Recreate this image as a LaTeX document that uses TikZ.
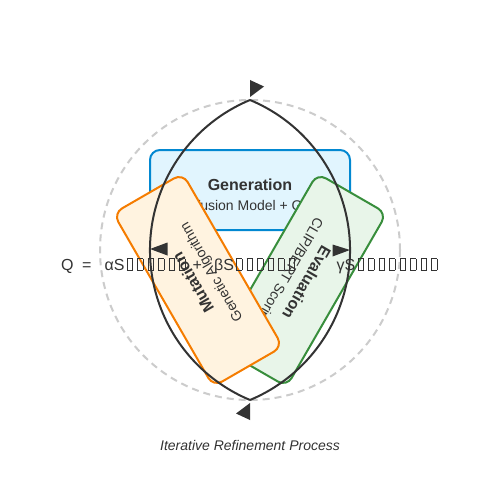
\documentclass[tikz,border=0pt]{standalone}
\usepackage{fontspec}
\setmainfont{Liberation Sans}
\usepackage{tikz}
\usetikzlibrary{calc,positioning}
\definecolor{genfill}{HTML}{E1F5FE}
\definecolor{gendraw}{HTML}{0288D1}
\definecolor{mutfill}{HTML}{FFF3E0}
\definecolor{mutdraw}{HTML}{F57C00}
\definecolor{evalfill}{HTML}{E8F5E9}
\definecolor{evaldraw}{HTML}{388E3C}
\definecolor{ink}{HTML}{333333}
\definecolor{ringgray}{HTML}{CCCCCC}
% missing-glyph boxes as printed in the formula
\newcommand{\tofu}{\makebox[10.5pt]{\fboxsep=0pt\fboxrule=0.6pt\fbox{\rule{0pt}{11pt}\rule{5pt}{0pt}}}}
\newcommand{\tofus}[1]{\foreach \k in {1,...,#1}{\tofu}}
\tikzset{%
	stagebox/.style   = {rectangle, rounded corners=10pt, line width=2pt, minimum width=200pt, minimum height=80pt, inner sep=0pt},
	stagetitle/.style = {anchor=base, inner sep=0pt, text=ink, font=\fontsize{16}{19}\selectfont\bfseries},
	stagesub/.style   = {anchor=base, inner sep=0pt, text=ink, font=\fontsize{14}{17}\selectfont},
	formula/.style    = {anchor=base west, inner sep=0pt, text=ink, font=\fontsize{16}{19}\selectfont},
	loopline/.style   = {draw=ink, line width=2pt},
	looptip/.style    = {fill=ink},
	guidering/.style  = {draw=ringgray, line width=2pt, dash pattern=on 7pt off 5pt},
}
\begin{document}
\begin{tikzpicture}[x=1pt,y=-1pt]
	\useasboundingbox (0,0) rectangle (500,500);
	\fill[white] (0,0) rectangle (500,500);
	\draw[guidering] (250,250) circle[radius=150];
	
	\begin{scope}[shift={(250,190)}, transform shape]  % generation
		\node[stagebox, draw=gendraw, fill=genfill] (generation) at (0,0) {};
		\node[stagetitle] (generation-title) at (0,0) {Generation};
		\node[stagesub] (generation-sub) at (0,20) {Diffusion Model + GPT};
	\end{scope}
	\begin{scope}[shift={(302,280)}, rotate=240, transform shape]  % evaluation
		\node[stagebox, draw=evaldraw, fill=evalfill] (evaluation) at (0,0) {};
		\node[stagetitle] (evaluation-title) at (0,0) {Evaluation};
		\node[stagesub] (evaluation-sub) at (0,20) {CLIP/BERT Scoring};
	\end{scope}
	\begin{scope}[shift={(198,280)}, rotate=120, transform shape]  % mutation
		\node[stagebox, draw=mutdraw, fill=mutfill] (mutation) at (0,0) {};
		\node[stagetitle] (mutation-title) at (0,0) {Mutation};
		\node[stagesub] (mutation-sub) at (0,20) {Genetic Algorithm};
	\end{scope}
	
	\coordinate (loop-top) at (250,100);
	\coordinate (loop-bottom) at (250,400);
	\draw[loopline] (loop-top) arc[start angle=247.38, end angle=112.62, radius=162.5];
	\draw[loopline] (loop-top) arc[start angle=-67.38, end angle=67.38, radius=162.5];
	\fill[looptip] (250,80) -- (264,86.5) -- (250,97) -- cycle;
	\fill[looptip] (250,420) -- (236,413.5) -- (250,403) -- cycle;
	\fill[looptip] (150,249) -- (167.5,242.5) -- (167.5,255.5) -- cycle;
	\fill[looptip] (350,250) -- (332.5,244.5) -- (332.5,256.5) -- cycle;
	
	\node[formula] (q) at (61,270) {Q};
	\node[formula] (eq) at (82,270) {=};
	\node[formula] (term-a) at (104.5,270) {αS\tofus{6}};
	\node[formula] (plus) at (192.5,270) {+};
	\node[formula] (term-b) at (214,270) {βS\tofus{6}};
	\node[formula] (term-c) at (336.5,270) {γS\tofus{8}};
	
	\node[anchor=base, text=ink, font=\fontsize{14}{17}\selectfont\itshape] (caption) at (250,450) {Iterative Refinement Process};
\end{tikzpicture}
\end{document}
